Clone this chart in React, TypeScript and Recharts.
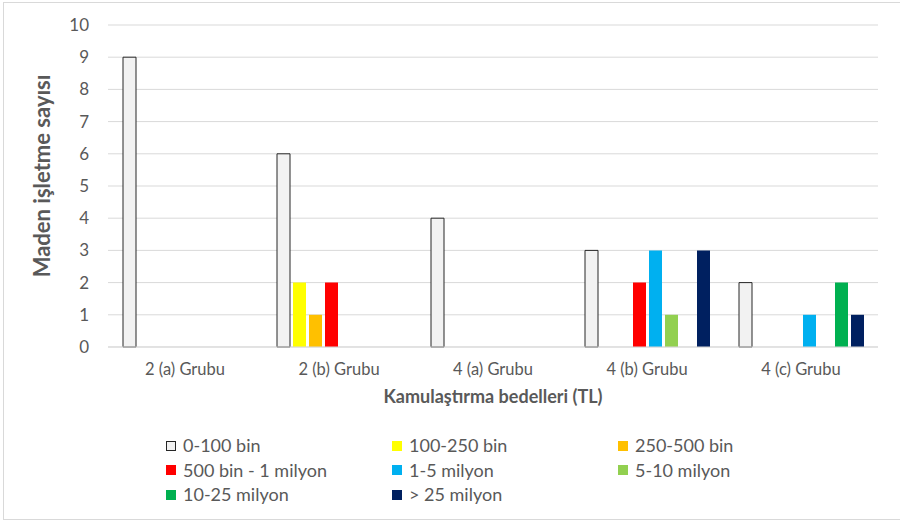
import { BarChart, Bar, XAxis, YAxis, CartesianGrid } from 'recharts'

const categories = ['2 (a) Grubu', '2 (b) Grubu', '4 (a) Grubu', '4 (b) Grubu', '4 (c) Grubu']

const bin0to100 = [9, 6, 4, 3, 2]
const bin100to250 = [0, 2, 0, 0, 0]
const bin250to500 = [0, 1, 0, 0, 0]
const bin500to1m = [0, 2, 0, 2, 0]
const mil1to5 = [0, 0, 0, 3, 1]
const mil5to10 = [0, 0, 0, 1, 0]
const mil10to25 = [0, 0, 0, 0, 2]
const milOver25 = [0, 0, 0, 3, 1]

const yTicks = [0, 1, 2, 3, 4, 5, 6, 7, 8, 9, 10]

const series = [
  { key: 's1', name: '0-100 bin', values: bin0to100, color: '#F2F2F2', stroke: '#262626' },
  { key: 's2', name: '100-250 bin', values: bin100to250, color: '#FFFF00' },
  { key: 's3', name: '250-500 bin', values: bin250to500, color: '#FFC000' },
  { key: 's4', name: '500 bin - 1 milyon', values: bin500to1m, color: '#FF0000' },
  { key: 's5', name: '1-5 milyon', values: mil1to5, color: '#00B0F0' },
  { key: 's6', name: '5-10 milyon', values: mil5to10, color: '#92D050' },
  { key: 's7', name: '10-25 milyon', values: mil10to25, color: '#00B050' },
  { key: 's8', name: '> 25 milyon', values: milOver25, color: '#002060' },
]

const data = categories.map((name, i) => {
  const row: Record<string, string | number> = { name }
  series.forEach((s) => {
    row[s.key] = s.values[i]
  })
  return row
})

const FONT = 'Lato, "Open Sans", sans-serif'
const GRAY = '#595959'

function YTitle({ viewBox }: any) {
  const x = viewBox.x + 3
  const y = viewBox.y + viewBox.height / 2 - 10
  return (
    <text
      x={x}
      y={y}
      transform={`rotate(-90, ${x}, ${y})`}
      textAnchor="middle"
      dominantBaseline="central"
      fill={GRAY}
      fontFamily={FONT}
      fontSize={22}
      fontWeight="bold"
    >
      Maden işletme sayısı
    </text>
  )
}

function XTitle({ viewBox }: any) {
  const x = viewBox.x + viewBox.width / 2
  const y = viewBox.y + viewBox.height - 4
  return (
    <text
      x={x}
      y={y}
      textAnchor="middle"
      fill={GRAY}
      fontFamily={FONT}
      fontSize={18}
      fontWeight="bold"
    >
      Kamulaştırma bedelleri (TL)
    </text>
  )
}

export default function App() {
  return (
    <div style={{ position: 'absolute', left: 0, top: 0, width: 900, height: 522, background: '#fff', fontFamily: FONT }}>
      <div
        style={{
          position: 'absolute',
          left: 3,
          top: 2,
          width: 897,
          height: 518,
          borderTop: '1px solid #d9d9d9',
          borderLeft: '1px solid #d9d9d9',
          borderBottom: '1px solid #d9d9d9',
          boxSizing: 'border-box',
        }}
      />
      <BarChart
        width={900}
        height={522}
        data={data}
        margin={{ top: 25, right: 22, left: 38, bottom: 115 }}
        barSize={13}
        barGap={3}
        style={{ position: 'absolute', left: 0, top: 0 }}
      >
        <CartesianGrid vertical={false} stroke="#d9d9d9" />
        <XAxis
          dataKey="name"
          height={60}
          tickLine={false}
          axisLine={{ stroke: '#d9d9d9' }}
          tickMargin={10}
          tick={{ fill: GRAY, fontSize: 16.5, fontFamily: FONT }}
          label={<XTitle />}
        />
        <YAxis
          width={70}
          domain={[0, 10]}
          ticks={yTicks}
          interval={0}
          tickLine={false}
          axisLine={false}
          tickMargin={13}
          tick={{ fill: GRAY, fontSize: 17, fontFamily: FONT }}
          label={<YTitle />}
        />
        {series.map((s) => (
          <Bar
            key={s.key}
            dataKey={s.key}
            name={s.name}
            fill={s.color}
            stroke={s.stroke}
            strokeWidth={s.stroke ? 1 : 0}
            isAnimationActive={false}
          />
        ))}
      </BarChart>
      <div
        style={{
          position: 'absolute',
          left: 166,
          top: 435,
          display: 'grid',
          gridTemplateColumns: '226px 226px 226px',
          rowGap: 3,
          color: GRAY,
          fontSize: 18,
          lineHeight: '21.5px',
        }}
      >
        {series.map((s) => (
          <div key={s.key} style={{ display: 'flex', alignItems: 'center' }}>
            <span
              style={{
                display: 'inline-block',
                width: 10,
                height: 10,
                background: s.color,
                border: s.stroke ? `1px solid ${s.stroke}` : 'none',
                boxSizing: 'border-box',
                marginRight: 7,
              }}
            />
            <span>{s.name}</span>
          </div>
        ))}
      </div>
    </div>
  )
}
